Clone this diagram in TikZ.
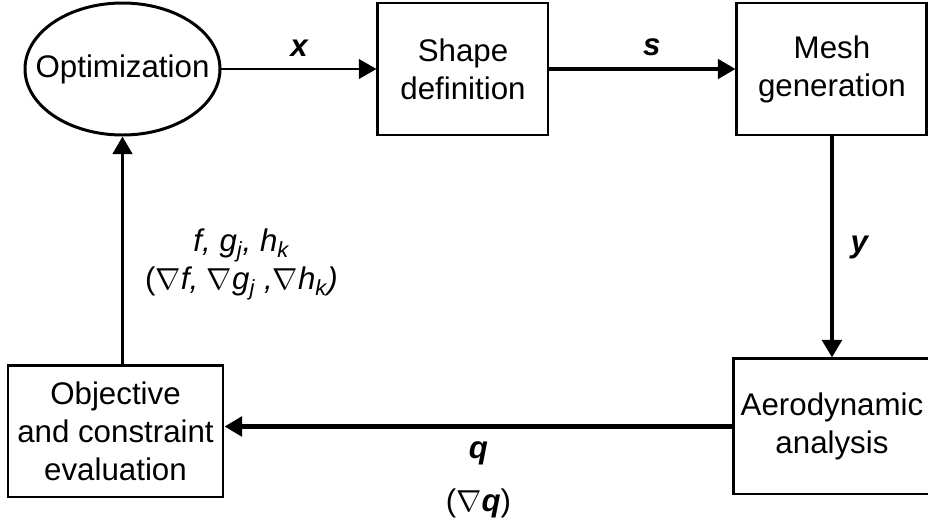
\documentclass[tikz,border=0pt]{standalone}
\usepackage{fontspec}
\setmainfont{Liberation Sans}
\usetikzlibrary{arrows.meta,positioning,shapes.geometric}

\begin{document}
\begin{tikzpicture}[
      node distance=3cm and 3cm,
      txt/.style={font=\fontsize{17.8}{21.7}\selectfont},
      box/.style={txt,draw=black,line width=1.7pt,align=center,inner sep=0pt,
        minimum height=2.64cm},
      oval/.style={txt,ellipse,draw=black,line width=1.7pt,inner ysep=0pt,inner xsep=-0.36cm,
        minimum width=3.9cm,minimum height=2.64cm},
      lbl/.style={font=\fontsize{17.8}{21.7}\selectfont\bfseries\itshape},
      a/.style={-{Triangle[length=10pt,width=11pt]},line width=1.6pt}]
    \useasboundingbox (0,0) rectangle (18.56,10.58);
    \node[oval] (opt) at (2.45,9.2) {Optimization};
    \node[box,minimum width=3.4cm,right=3.1cm of opt] (shape) {Shape\\definition};
    \node[box,minimum width=3.8cm,right=3.72cm of shape] (mesh) {Mesh\\generation};
    \node[box,minimum width=3.92cm,minimum height=2.7cm,below=4.42cm of mesh] (aero) {Aerodynamic\\analysis};
    \node[box,minimum width=4.3cm,minimum height=2.62cm,below=4.56cm of opt,xshift=-0.14cm] (obj) {Objective\\and constraint\\evaluation};
    \draw[a] (opt) -- (shape) node[lbl,midway,above=3pt] (xlab) {x};
    \draw[a,line width=2pt] (shape) -- (mesh) node[lbl,pos=0.55,above=3pt] (slab) {s};
    \draw[a,line width=2.6pt] (mesh) -- (aero) node[lbl,midway,right=6pt] (ylab) {y};
    \draw[a,line width=3pt] (aero.west) -- (aero.west -| obj.east) node[lbl,midway,below=4pt] (qlab) {q};
    \node[txt] (dqlab) at ([yshift=-1cm]qlab) {($\nabla$\textbf{\textit{q}})};
    \draw[a,line width=2pt] (opt.south |- obj.north) -- (opt.south)
      node[txt,midway,right=0.3cm,yshift=-0.28cm,align=center] (flab)
      {\itshape f, g\textsubscript{j}, h\textsubscript{k}\\
       ($\nabla$\itshape f, $\nabla$g\textsubscript{j} ,$\nabla$h\textsubscript{k})};
  \end{tikzpicture}
\end{document}
